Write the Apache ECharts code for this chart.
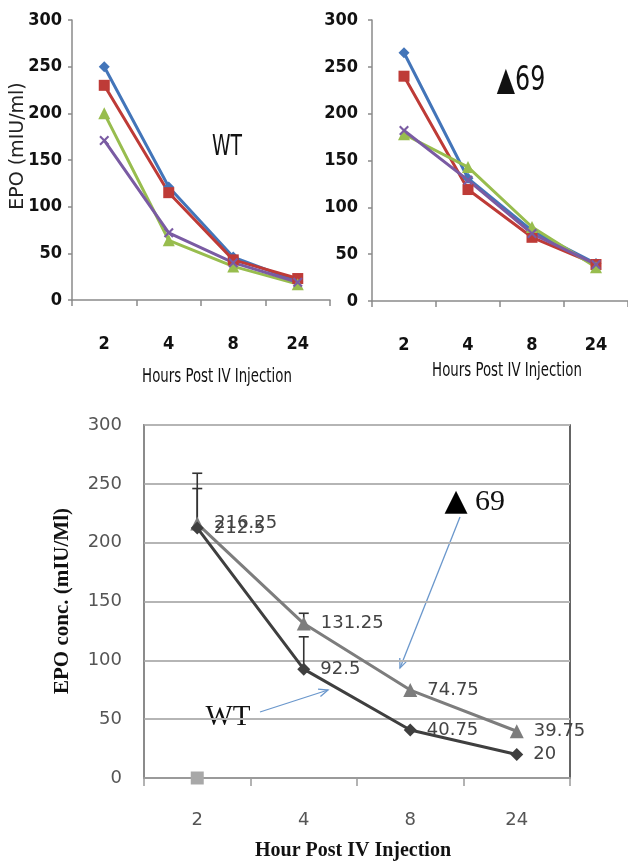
<!DOCTYPE html>
<html>
<head>
<meta charset="utf-8">
<script src="https://cdn.jsdelivr.net/npm/echarts@6/dist/echarts.min.js"></script>
<style>
html,body{margin:0;padding:0;background:#fff;}
#main{width:628px;height:864px;}
</style>
</head>
<body>
<div id="main"></div>
<script>
// ---- data ----
const categories = ['2', '4', '8', '24'];
// top-left panel (WT), four animals
const wtBlue   = [250, 121, 46, 20];
const wtRed    = [230, 115, 43, 23];
const wtGreen  = [200, 64, 36, 17];
const wtPurple = [171, 72, 40, 19];
// top-right panel (▲69), four animals
const d69Blue   = [265, 131, 75, 40];
const d69Red    = [240, 119, 68, 39];
const d69Green  = [178, 143, 79, 36];
const d69Purple = [182, 129, 72, 39];
// bottom panel, means
const mean69 = [216.25, 131.25, 74.75, 39.75];
const meanWT = [212.5, 92.5, 40.75, 20];
const upper69 = [259, 140, null, null];
const upperWT = [246, 120, null, null];
const extraPoint = [0, null, null, null];

const NARROW = "'Liberation Sans Narrow','DejaVu Sans Condensed','Arial Narrow',sans-serif";
const SANS = "'DejaVu Sans','Noto Sans',sans-serif";
const SERIF = "'Liberation Serif','DejaVu Serif',serif";

const cBlue = '#4375b9', cRed = '#be3b37', cGreen = '#98bd4e', cPurple = '#7a5ba3';
const xSym = 'path://M0,1.5 L1.5,0 L5,3.5 L8.5,0 L10,1.5 L6.5,5 L10,8.5 L8.5,10 L5,6.5 L1.5,10 L0,8.5 L3.5,5 Z';

function topSeries(idx, data, color, symbol, size) {
  return {
    type: 'line', xAxisIndex: idx, yAxisIndex: idx, data: data,
    symbol: symbol, symbolSize: size, showSymbol: true,
    lineStyle: {color: color, width: 3},
    itemStyle: {color: color},
    z: 3
  };
}

function topX(idx) {
  return {
    type: 'category', gridIndex: idx, data: categories, boundaryGap: true,
    axisLine: {show: true, lineStyle: {color: '#8a8a8a', width: 1.5}},
    axisTick: {show: true, length: 6, lineStyle: {color: '#8a8a8a', width: 1.5}},
    axisLabel: {margin: 35, color: '#111', fontFamily: NARROW, fontWeight: 'bold', fontSize: 18},
    splitLine: {show: false}
  };
}
function topY(idx, margin) {
  return {
    type: 'value', gridIndex: idx, min: 0, max: 300, interval: 50,
    axisLine: {show: true, lineStyle: {color: '#8a8a8a', width: 1.5}},
    axisTick: {show: true, length: 4, lineStyle: {color: '#8a8a8a', width: 1.5}},
    axisLabel: {margin: margin, color: '#111', fontFamily: NARROW, fontWeight: 'bold', fontSize: 18},
    splitLine: {show: false}
  };
}

function errorData(means, uppers) {
  const out = [];
  for (let i = 0; i < means.length; i++) {
    if (uppers[i] != null) out.push([i, means[i], uppers[i]]);
  }
  return out;
}
function renderErr(params, api) {
  const x = api.value(0);
  const p0 = api.coord([x, api.value(1)]);
  const p1 = api.coord([x, api.value(2)]);
  const st = {stroke: '#333', lineWidth: 1.6};
  return {type: 'group', children: [
    {type: 'line', shape: {x1: p0[0], y1: p0[1], x2: p1[0], y2: p1[1]}, style: st},
    {type: 'line', shape: {x1: p1[0] - 5, y1: p1[1], x2: p1[0] + 5, y2: p1[1]}, style: st}
  ]};
}

function arrow(x1, y1, x2, y2, color) {
  const ang = Math.atan2(y2 - y1, x2 - x1);
  const L = 10, a = 0.4;
  const h1 = [x2 - L * Math.cos(ang - a), y2 - L * Math.sin(ang - a)];
  const h2 = [x2 - L * Math.cos(ang + a), y2 - L * Math.sin(ang + a)];
  return {type: 'group', children: [
    {type: 'line', shape: {x1: x1, y1: y1, x2: x2, y2: y2}, style: {stroke: color, lineWidth: 1.3}},
    {type: 'polyline', shape: {points: [h1, [x2, y2], h2]}, style: {stroke: color, lineWidth: 1.3, fill: null}}
  ]};
}

const chart = echarts.init(document.getElementById('main'), null, {renderer: 'canvas'});
const arrowColor = '#6a97cc';

chart.setOption({
  animation: false,
  backgroundColor: '#fff',
  grid: [
    {left: 72, top: 20, width: 258, height: 280},
    {left: 372, top: 20, width: 256, height: 281},
    {left: 144, top: 425, width: 426, height: 353, show: true, borderColor: '#333', borderWidth: 1.5, backgroundColor: 'transparent'}
  ],
  xAxis: [
    topX(0), topX(1),
    {
      type: 'category', gridIndex: 2, data: categories, boundaryGap: true,
      axisLine: {show: true, lineStyle: {color: '#9a9a9a', width: 2}},
      axisTick: {show: true, length: 8, lineStyle: {color: '#9a9a9a', width: 1.5}},
      axisLabel: {margin: 33, color: '#555', fontFamily: SANS, fontSize: 18},
      splitLine: {show: false}
    }
  ],
  yAxis: [
    topY(0, 10), topY(1, 14),
    {
      type: 'value', gridIndex: 2, min: 0, max: 300, interval: 50,
      axisLine: {show: true, lineStyle: {color: '#999', width: 1.5}},
      axisTick: {show: false},
      axisLabel: {margin: 22, color: '#555', fontFamily: SANS, fontSize: 18},
      splitLine: {show: true, lineStyle: {color: '#b5b5b5', width: 2}}
    }
  ],
  series: [
    topSeries(0, wtBlue, cBlue, 'diamond', 11),
    topSeries(0, wtRed, cRed, 'rect', 11),
    topSeries(0, wtGreen, cGreen, 'triangle', 12),
    topSeries(0, wtPurple, cPurple, xSym, 10),
    topSeries(1, d69Blue, cBlue, 'diamond', 11),
    topSeries(1, d69Red, cRed, 'rect', 11),
    topSeries(1, d69Green, cGreen, 'triangle', 12),
    topSeries(1, d69Purple, cPurple, xSym, 10),
    {
      type: 'custom', xAxisIndex: 2, yAxisIndex: 2, renderItem: renderErr,
      data: errorData(mean69, upper69), encode: {x: 0, y: [1, 2]}, z: 2
    },
    {
      type: 'custom', xAxisIndex: 2, yAxisIndex: 2, renderItem: renderErr,
      data: errorData(meanWT, upperWT), encode: {x: 0, y: [1, 2]}, z: 2
    },
    {
      name: '69', type: 'line', xAxisIndex: 2, yAxisIndex: 2, data: mean69,
      symbol: 'triangle', symbolSize: 14,
      lineStyle: {color: '#7d7d7d', width: 3}, itemStyle: {color: '#7d7d7d'},
      label: {show: true, position: 'right', distance: 10, color: '#444', fontFamily: SANS, fontSize: 18},
      z: 4
    },
    {
      name: 'WT', type: 'line', xAxisIndex: 2, yAxisIndex: 2, data: meanWT,
      symbol: 'diamond', symbolSize: 13,
      lineStyle: {color: '#3f3f3f', width: 3}, itemStyle: {color: '#3f3f3f'},
      label: {show: true, position: 'right', distance: 10, color: '#444', fontFamily: SANS, fontSize: 18},
      z: 4
    },
    {
      type: 'line', xAxisIndex: 2, yAxisIndex: 2, data: extraPoint,
      symbol: 'rect', symbolSize: 13, showSymbol: true,
      lineStyle: {width: 0}, itemStyle: {color: '#a8a8a8'}, z: 4
    }
  ],
  graphic: [
    // top-left panel texts
    {type: 'text', x: 18, y: 146, rotation: Math.PI / 2,
     style: {text: 'EPO (mIU/ml)', font: '500 19px ' + SANS, fill: '#222', textAlign: 'center', textVerticalAlign: 'middle'}},
    {type: 'text', x: 217, y: 377, scaleX: 0.78,
     style: {text: 'Hours Post IV Injection', font: '19px ' + NARROW, fill: '#111', textAlign: 'center', textVerticalAlign: 'middle'}},
    {type: 'text', x: 227, y: 147, scaleX: 0.72,
     style: {text: 'WT', font: '29px ' + NARROW, fill: '#111', textAlign: 'center', textVerticalAlign: 'middle'}},
    // top-right panel texts
    {type: 'text', x: 507, y: 371, scaleX: 0.78,
     style: {text: 'Hours Post IV Injection', font: '19px ' + NARROW, fill: '#111', textAlign: 'center', textVerticalAlign: 'middle'}},
    {type: 'text', x: 521, y: 81, scaleX: 0.8,
     style: {text: '▲69', font: '33px ' + NARROW, fill: '#111', textAlign: 'center', textVerticalAlign: 'middle'}},
    // bottom panel texts
    {type: 'text', x: 353, y: 851,
     style: {text: 'Hour Post IV Injection', font: 'bold 20px ' + SERIF, fill: '#111', textAlign: 'center', textVerticalAlign: 'middle'}},
    {type: 'text', x: 63, y: 601, rotation: Math.PI / 2,
     style: {text: 'EPO conc. (mIU/Ml)', font: 'bold 21px ' + SERIF, fill: '#111', textAlign: 'center', textVerticalAlign: 'middle'}},
    {type: 'text', x: 456, y: 502,
     style: {text: '▲', font: '30px ' + SANS, fill: '#000', textAlign: 'center', textVerticalAlign: 'middle'}},
    {type: 'text', x: 490, y: 502,
     style: {text: '69', font: '30px ' + SERIF, fill: '#111', textAlign: 'center', textVerticalAlign: 'middle'}},
    {type: 'text', x: 228, y: 717,
     style: {text: 'WT', font: '29px ' + SERIF, fill: '#111', textAlign: 'center', textVerticalAlign: 'middle'}},
    arrow(460, 517, 400, 668, arrowColor),
    arrow(260, 712, 328, 690, arrowColor)
  ]
});
</script>
</body>
</html>
